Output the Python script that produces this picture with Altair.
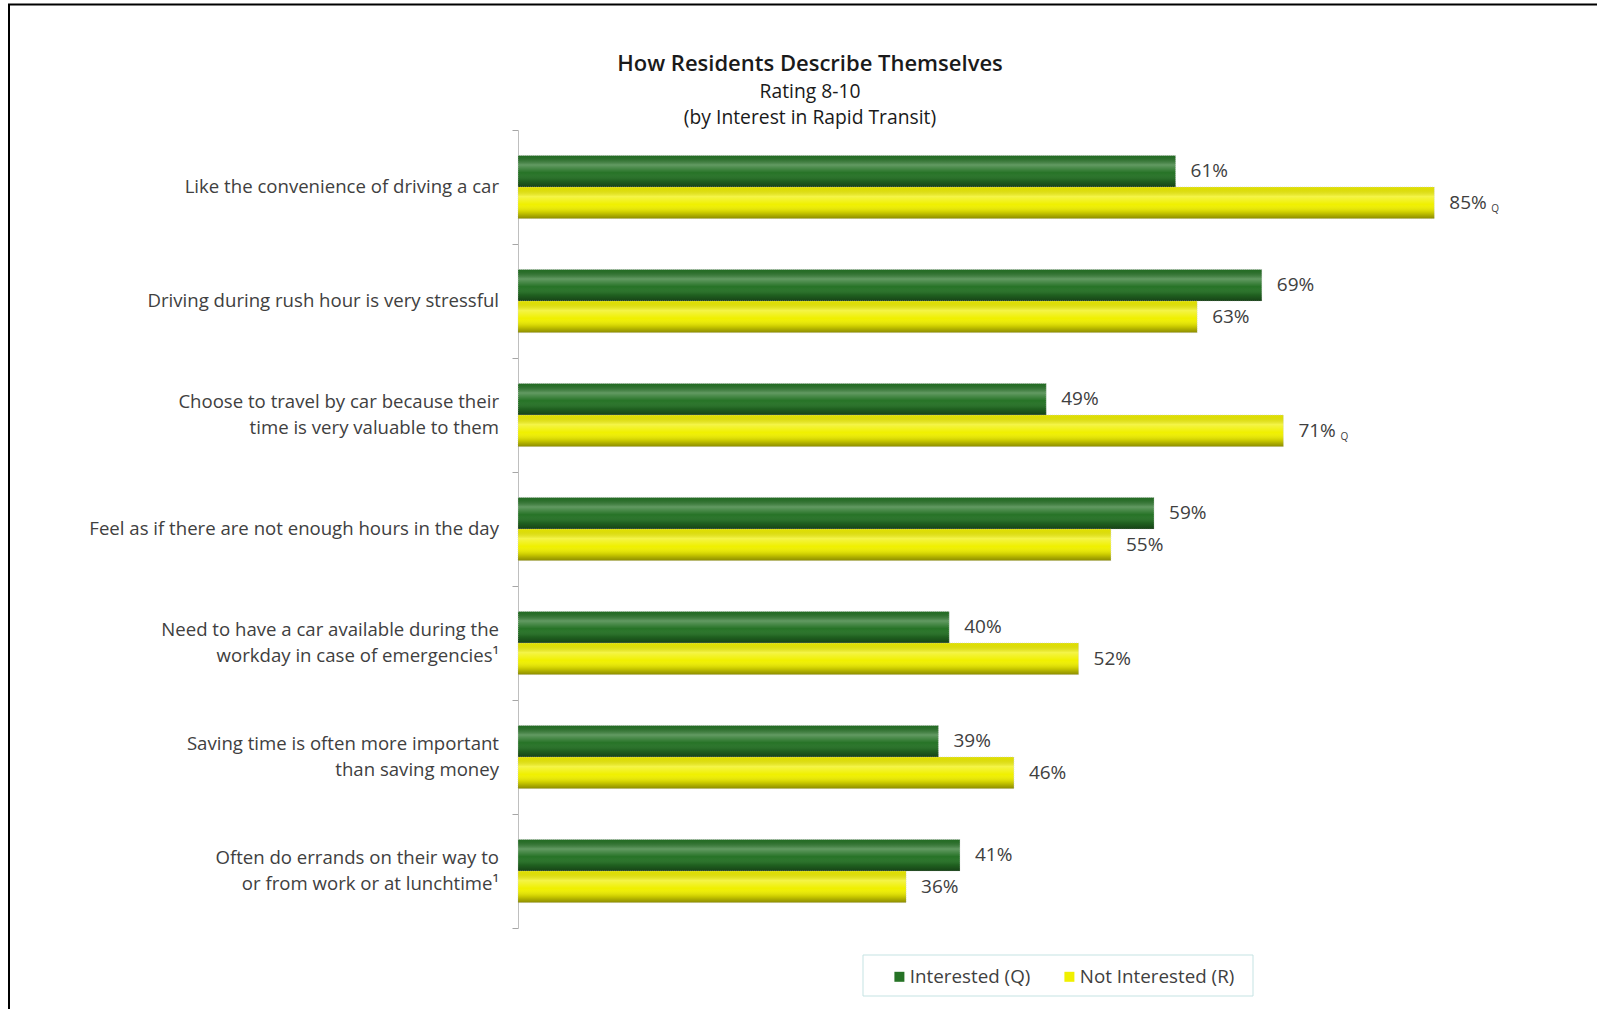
import altair as alt
import pandas as pd

title_lines = ["How Residents Describe Themselves", "Rating 8-10", "(by Interest in Rapid Transit)"]
categories = [
    "Like the convenience of driving a car",
    "Driving during rush hour is very stressful",
    "Choose to travel by car because their|time is very valuable to them",
    "Feel as if there are not enough hours in the day",
    "Need to have a car available during the|workday in case of emergencies\u00b9",
    "Saving time is often more important|than saving money",
    "Often do errands on their way to|or from work or at lunchtime\u00b9",
]
series = ["Interested (Q)", "Not Interested (R)"]
interested = [61, 69, 49, 59, 40, 39, 41]
not_interested = [85, 63, 71, 55, 52, 46, 36]
not_int_sig = ["Q", "", "Q", "", "", "", ""]
int_sig = ["", "", "", "", "", "", ""]

rows = []
for i, c in enumerate(categories):
    rows.append({"cat": c, "series": series[0], "value": interested[i],
                 "label": f"{interested[i]}%", "sig": int_sig[i]})
    rows.append({"cat": c, "series": series[1], "value": not_interested[i],
                 "label": f"{not_interested[i]}%", "sig": not_int_sig[i]})
df = pd.DataFrame(rows)

line_rows = []
for c in categories:
    parts = c.split("|")
    for j, p in enumerate(parts):
        line_rows.append({"cat": c, "line": p, "idx": j, "n": len(parts)})
lines_df = pd.DataFrame(line_rows)

FONT = "Open Sans"
FS = 18.6
W, H = 1078, 798
LEFT, TOP = 518, 130
LH = 25.5

y_enc = alt.Y("cat:N", sort=categories, title=None,
              scale=alt.Scale(paddingInner=0, paddingOuter=0),
              axis=alt.Axis(labels=False, tickSize=6, tickColor="#a6a6a6",
                            domainColor="#bfbfbf", tickBand="extent"))
yoff = alt.YOffset("series:N", sort=series,
                   scale=alt.Scale(paddingInner=0, paddingOuter=0.804))
x_enc = alt.X("value:Q", scale=alt.Scale(domain=[0, 100]), axis=None)
y_plain = alt.Y("cat:N", sort=categories)

base = alt.Chart(df)

bars = base.mark_bar(stroke="#d0d0d0", strokeWidth=0.6, strokeDash=[1, 1]).encode(
    y=y_enc, yOffset=yoff, x=x_enc,
    color=alt.Color("series:N", sort=series,
                    scale=alt.Scale(domain=series, range=["#267326", "#f0f000"]),
                    legend=alt.Legend(title=None, orient="none", legendX=372, legendY=837,
                                      direction="horizontal", labelFont=FONT, labelFontSize=18.8,
                                      labelColor="#404040", symbolType="square", symbolSize=100,
                                      symbolStrokeWidth=0, columnPadding=29, padding=0,
                                      labelOffset=1)),
)

shade = base.mark_bar(fill={
    "gradient": "linear", "x1": 0, "y1": 0, "x2": 0, "y2": 1,
    "stops": [
        {"offset": 0, "color": "rgba(0,0,0,0.05)"},
        {"offset": 0.3, "color": "rgba(255,255,255,0.28)"},
        {"offset": 0.55, "color": "rgba(255,255,255,0.0)"},
        {"offset": 0.8, "color": "rgba(0,0,0,0.15)"},
        {"offset": 1, "color": "rgba(0,0,0,0.42)"},
    ]}).encode(y=y_plain, yOffset=yoff, x=x_enc)

labels = base.mark_text(align="left", baseline="middle", dx=15, font=FONT,
                        fontSize=19, color="#404040").encode(
    y=y_plain, yOffset=yoff, x=x_enc, text="label:N")

subs = base.mark_text(align="left", baseline="middle", dx=57, dy=6, font=FONT,
                      fontSize=10, color="#404040").encode(
    y=y_plain, yOffset=yoff, x=x_enc, text="sig:N")

cat_base = alt.Chart(lines_df)
cat_single = cat_base.transform_filter("datum.n == 1").mark_text(
    align="right", baseline="middle", font=FONT, fontSize=FS, color="#404040").encode(
    y=y_plain, x=alt.value(-19), text="line:N")
cat_first = cat_base.transform_filter("datum.n == 2 && datum.idx == 0").mark_text(
    align="right", baseline="middle", font=FONT, fontSize=FS, color="#404040",
    dy=-LH / 2).encode(y=y_plain, x=alt.value(-19), text="line:N")
cat_second = cat_base.transform_filter("datum.n == 2 && datum.idx == 1").mark_text(
    align="right", baseline="middle", font=FONT, fontSize=FS, color="#404040",
    dy=LH / 2).encode(y=y_plain, x=alt.value(-19), text="line:N")

one = pd.DataFrame({"a": [0]})
frame_left = alt.Chart(one).mark_rule(color="black", strokeWidth=2).encode(
    x=alt.value(9 - LEFT), y=alt.value(4.5 - TOP), y2=alt.value(1009 - TOP))
frame_top = alt.Chart(one).mark_rule(color="black", strokeWidth=2).encode(
    x=alt.value(8 - LEFT), x2=alt.value(1597 - LEFT), y=alt.value(4.5 - TOP))

legend_box = alt.Chart(one).mark_rect(fill="white", stroke="#c5e3e3", strokeWidth=1).encode(
    x=alt.value(863 - LEFT), x2=alt.value(1253 - LEFT),
    y=alt.value(955 - TOP), y2=alt.value(996 - TOP))

TX = 810 - LEFT
t1 = alt.Chart(one).mark_text(font=FONT, fontSize=22, fontWeight=600, color="#1a1a1a",
                              baseline="middle").encode(
    x=alt.value(TX), y=alt.value(64 - TOP), text=alt.value(title_lines[0]))
t2 = alt.Chart(one).mark_text(font=FONT, fontSize=19.3, color="#1a1a1a",
                              baseline="middle").encode(
    x=alt.value(TX), y=alt.value(92 - TOP), text=alt.value(title_lines[1]))
t3 = alt.Chart(one).mark_text(font=FONT, fontSize=19.3, color="#1a1a1a",
                              baseline="middle").encode(
    x=alt.value(TX), y=alt.value(118 - TOP), text=alt.value(title_lines[2]))

chart = alt.layer(legend_box, bars, shade, labels, subs, cat_single, cat_first, cat_second,
                  frame_left, frame_top, t1, t2, t3).properties(
    width=W, height=H,
    autosize=alt.AutoSizeParams(type="none"),
    padding={"left": LEFT, "top": TOP, "right": 1597 - LEFT - W, "bottom": 1009 - TOP - H},
).configure(background="white").configure_view(stroke=None)

chart.save("out.html", embed_options={"renderer": "svg", "actions": False})
